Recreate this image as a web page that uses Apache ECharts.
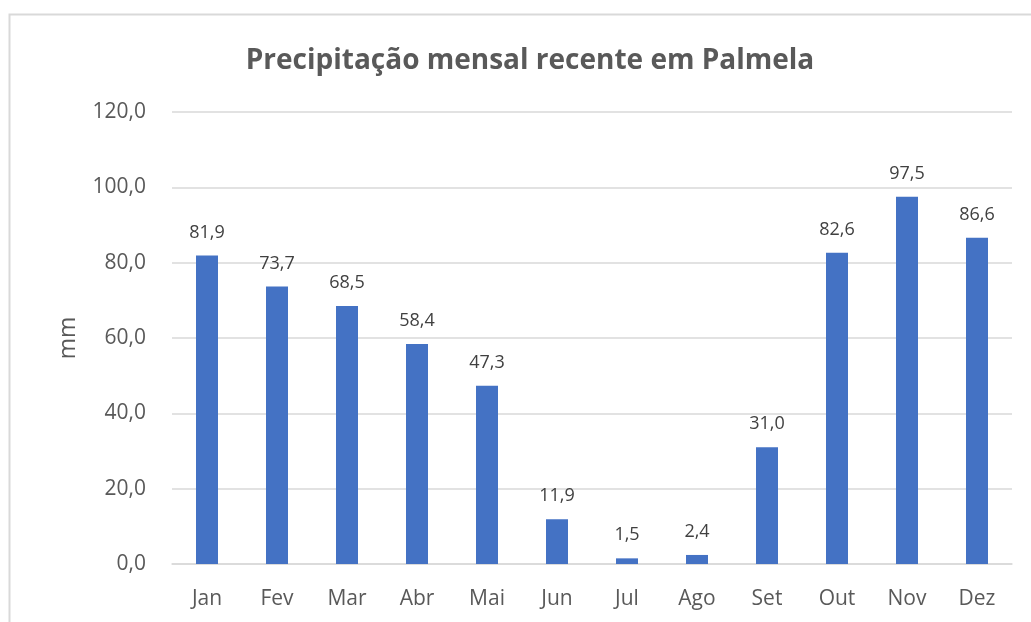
<!DOCTYPE html>
<html>
<head>
<meta charset="utf-8">
<script src="https://cdn.jsdelivr.net/npm/echarts@6/dist/echarts.min.js"></script>
<style>
  html, body { margin: 0; padding: 0; background: #fff; }
  #chart { width: 1031px; height: 622px; }
</style>
</head>
<body>
<div id="chart"></div>
<script>
var months = ['Jan', 'Fev', 'Mar', 'Abr', 'Mai', 'Jun', 'Jul', 'Ago', 'Set', 'Out', 'Nov', 'Dez'];
var rainfall = [81.9, 73.7, 68.5, 58.4, 47.3, 11.9, 1.5, 2.4, 31.0, 82.6, 97.5, 86.6];

var fmt = function (v) { return v.toFixed(1).replace('.', ','); };
var font = 'Open Sans';

var myChart = echarts.init(document.getElementById('chart'));
var option = {
    animation: false,
    textStyle: { fontFamily: font },
    graphic: [
        {
            type: 'rect',
            shape: { x: 9.5, y: 14.5, width: 1100, height: 700 },
            style: { fill: 'none', stroke: '#d9d9d9', lineWidth: 2 },
            silent: true
        }
    ],
    title: {
        text: 'Precipitação mensal recente em Palmela',
        left: 525,
        textAlign: 'center',
        top: 42,
        textStyle: { fontFamily: font, fontSize: 28, fontWeight: 'bold', color: '#595959' }
    },
    grid: { left: 172, right: 19, top: 112, bottom: 58 },
    xAxis: {
        type: 'category',
        data: months,
        axisLine: { show: true, lineStyle: { color: '#d9d9d9', width: 1.5 } },
        axisTick: { show: false },
        axisLabel: { color: '#595959', fontSize: 21, margin: 25 }
    },
    yAxis: {
        type: 'value',
        name: 'mm',
        nameLocation: 'middle',
        nameGap: 92,
        nameRotate: 90,
        nameTextStyle: { color: '#595959', fontSize: 23 },
        min: 0,
        max: 120,
        interval: 20,
        axisLine: { show: false },
        axisTick: { show: false },
        axisLabel: { color: '#595959', fontSize: 21, margin: 26, formatter: fmt },
        splitLine: { lineStyle: { color: '#d9d9d9', width: 1.5 } }
    },
    series: [
        {
            type: 'bar',
            data: rainfall,
            barWidth: 22,
            itemStyle: { color: '#4472c4' },
            label: {
                show: true,
                position: 'top',
                distance: 14,
                color: '#404040',
                fontSize: 18,
                formatter: function (p) { return fmt(p.value); }
            }
        }
    ]
};
myChart.setOption(option);
</script>
</body>
</html>
